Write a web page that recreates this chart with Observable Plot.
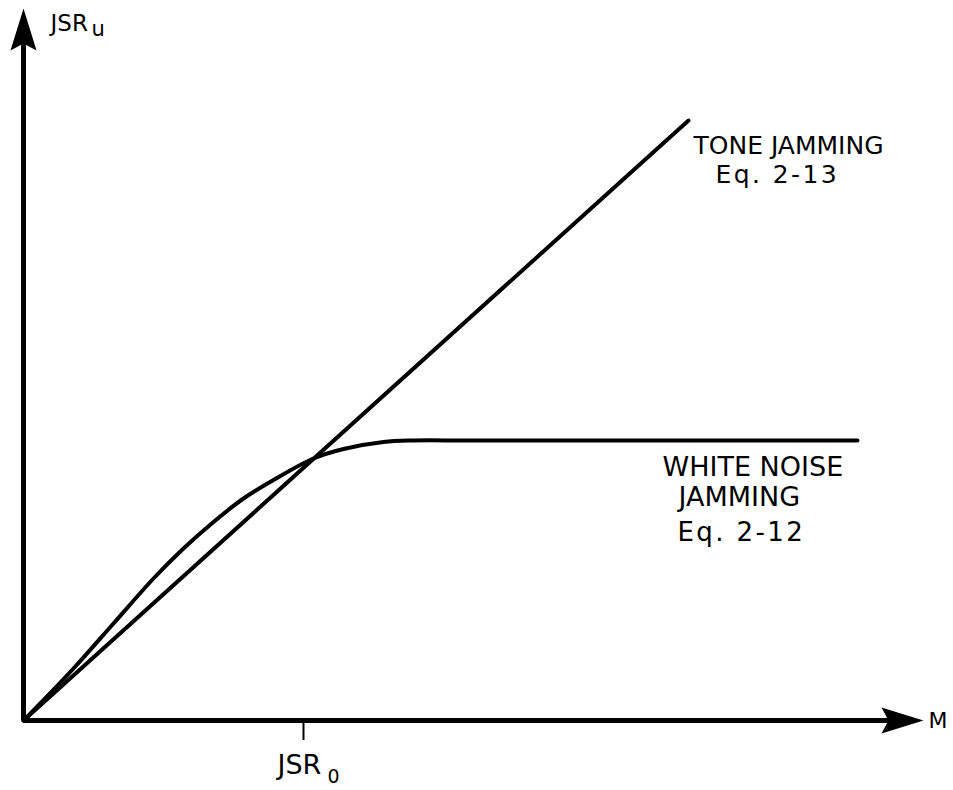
<!DOCTYPE html>
<html>
<head>
<meta charset="utf-8">
<script src="https://cdn.jsdelivr.net/npm/d3@7"></script>
<script src="https://cdn.jsdelivr.net/npm/@observablehq/plot@0.6"></script>
<style>
  html, body { margin: 0; padding: 0; background: #fff; }
  #chart svg { display: block; }
</style>
</head>
<body>
<div id="chart"></div>
<script>
// Axis extents (arbitrary units, M on x, JSR_u on y)
const xMax = 9.0;
const yMax = 7.12;
const jsr0 = 2.8;

// Tone jamming (Eq. 2-13): straight line
const toneM   = [0, 6.65];
const toneJSR = [0, 6.0];

// White noise jamming (Eq. 2-12): rises above the line, crosses it, then saturates
const noiseM   = [0, 0.50, 0.90, 1.30, 1.60, 1.90, 2.20, 2.50, 2.90, 3.20, 3.60, 3.90, 4.50, 8.34];
const noiseJSR = [0, 0.52, 0.97, 1.42, 1.72, 1.985, 2.22, 2.405, 2.62, 2.715, 2.785, 2.80, 2.80, 2.80];

// Text labels
const labelText = ["TONE JAMMING", "Eq. 2-13", "WHITE NOISE", "JAMMING", "Eq. 2-12"];
const labelX    = [6.70, 6.92, 6.39, 6.55, 6.54];
const labelY    = [5.67, 5.38, 2.45, 2.15, 1.80];
const labelSize = [25, 25, 27, 27, 26];

const tone  = toneM.map((m, i) => ({m, v: toneJSR[i]}));
const noise = noiseM.map((m, i) => ({m, v: noiseJSR[i]}));
const labels = labelText.map((t, i) => ({t, x: labelX[i], y: labelY[i], s: labelSize[i]}));

// filled, notched arrowhead pointing up with tip at the anchor
const arrowHead = {
  draw(ctx) {
    ctx.moveTo(0, 0);
    ctx.lineTo(-13, 42);
    ctx.lineTo(0, 35);
    ctx.lineTo(13, 42);
    ctx.closePath();
  }
};

const font = "DejaVu Sans, sans-serif";
const txt = (data, opts) => Plot.text(data, {textAnchor: "start", lineAnchor: "bottom", fill: "#000", fontFamily: font, ...opts});

const chart = Plot.plot({
  width: 953,
  height: 790,
  marginLeft: 23,
  marginRight: 30,
  marginTop: 8,
  marginBottom: 70,
  x: {domain: [0, xMax], axis: null},
  y: {domain: [0, yMax], axis: null},
  style: {background: "#fff", fontFamily: font, color: "#000"},
  marks: [
    // axes
    Plot.ruleY([0], {x1: 0, x2: xMax - 0.2, stroke: "#000", strokeWidth: 5}),
    Plot.ruleX([0], {y1: 0, y2: yMax - 0.2, stroke: "#000", strokeWidth: 5}),
    Plot.dot([{x: xMax, y: 0}], {x: "x", y: "y", symbol: arrowHead, fill: "#000", stroke: "none", rotate: 90}),
    Plot.dot([{x: 0, y: yMax}], {x: "x", y: "y", symbol: arrowHead, fill: "#000", stroke: "none", rotate: 0}),
    // JSR0 tick
    Plot.ruleX([jsr0], {y1: 0, y2: -0.2, stroke: "#000", strokeWidth: 2}),
    // curves
    Plot.line(tone, {x: "m", y: "v", stroke: "#000", strokeWidth: 4}),
    Plot.line(noise, {x: "m", y: "v", stroke: "#000", strokeWidth: 4, curve: "catmull-rom"}),
    // labels
    ...labels.map(d => txt([d], {x: "x", y: "y", text: "t", fontSize: d.s})),
    txt(["JSR"], {x: 0.27, y: 6.90, fontSize: 23}),
    txt(["u"], {x: 0.68, y: 6.85, fontSize: 21}),
    txt(["JSR"], {x: 2.54, y: -0.53, fontSize: 27}),
    txt(["0"], {x: 3.04, y: -0.62, fontSize: 19}),
    txt(["M"], {x: 9.05, y: -0.07, fontSize: 22})
  ]
});

// wider letter spacing for the equation references, as in the lettering of the original
d3.select(chart).selectAll("text")
  .filter(function() { return this.textContent.startsWith("Eq."); })
  .attr("letter-spacing", "2.4px");

document.getElementById("chart").appendChild(chart);
</script>
</body>
</html>
